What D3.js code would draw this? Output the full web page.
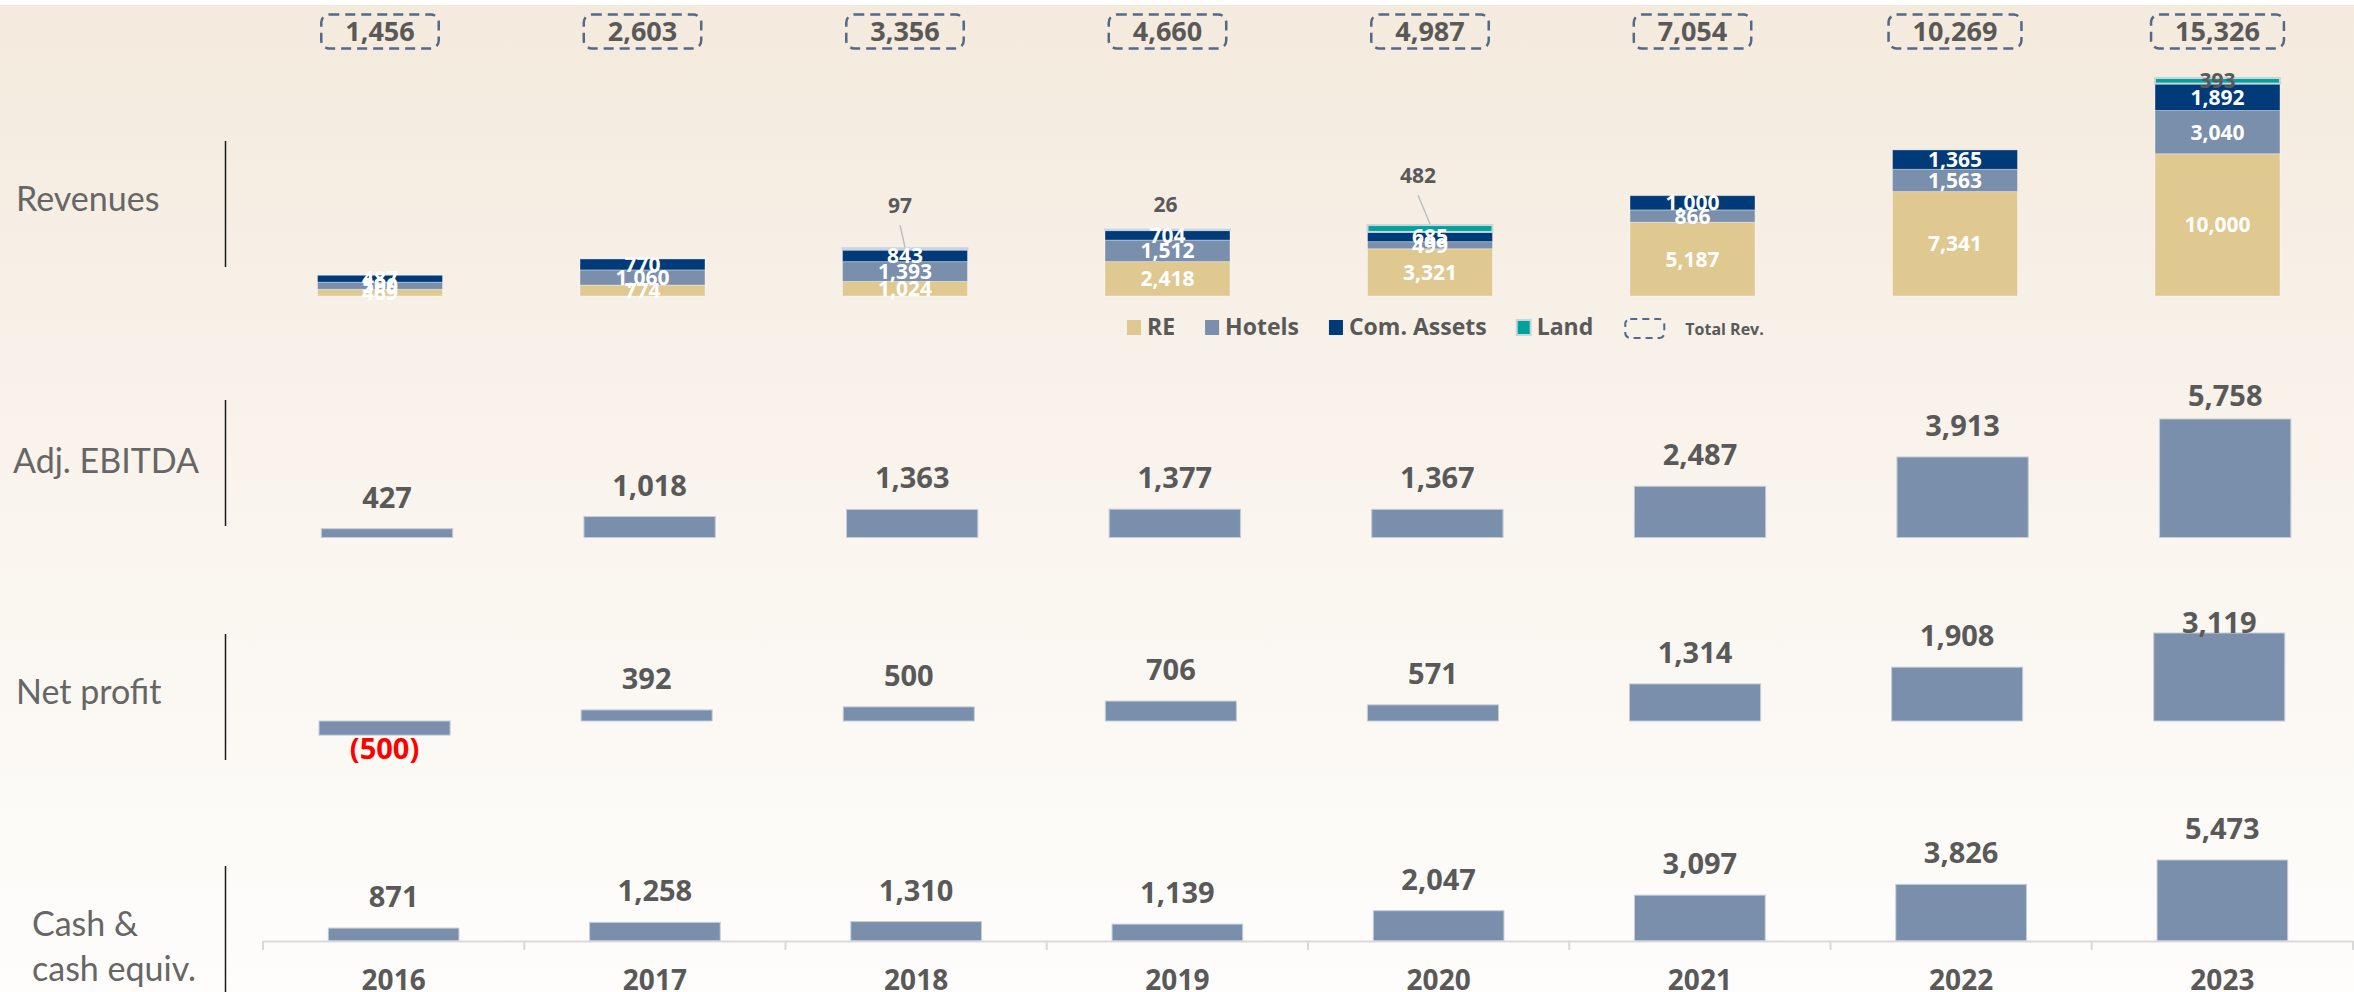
<!DOCTYPE html>
<html>
<head>
<meta charset="utf-8">
<script src="https://cdn.jsdelivr.net/npm/d3@7"></script>
<style>
  html, body { margin: 0; padding: 0; background: #fff; }
  svg { display: block; }
  .val { font-family: "Open Sans", sans-serif; font-weight: 700; fill: #595959; }
  .rowlab { font-family: Lato, "Open Sans", sans-serif; fill: #666; font-size: 34px; }
</style>
</head>
<body>
<div id="chart"></div>
<script>
// ---- data ----
var years = ["2016", "2017", "2018", "2019", "2020", "2021", "2022", "2023"];
var revRE = [469, 774, 1024, 2418, 3321, 5187, 7341, 10000];
var revHotels = [500, 1060, 1393, 1512, 499, 866, 1563, 3040];
var revCom = [487, 770, 843, 704, 685, 1000, 1365, 1892];
var revLand = [0, 0, 97, 26, 482, 0, 0, 393];
var revTotal = [1456, 2603, 3356, 4660, 4987, 7054, 10269, 15326];
var ebitda = [427, 1018, 1363, 1377, 1367, 2487, 3913, 5758];
var netProfit = [-500, 392, 500, 706, 571, 1314, 1908, 3119];
var cash = [871, 1258, 1310, 1139, 2047, 3097, 3826, 5473];
var seriesNames = ["RE", "Hotels", "Com. Assets", "Land"];

var width = 2354, height = 992;
var colors = {RE: "#e0c891", Hotels: "#7a8fab", "Com. Assets": "#003a78", Land: "#00a29a"};
var grey = "#595959";
var fmt = d3.format(",");

// where the small Land labels sit (relative to stack top / centre)
var landLabelPos = {
  "2018": {dx: -5, dy: -35, leader: true},
  "2019": {dx: -2, dy: -18, leader: false},
  "2020": {dx: -12, dy: -42, leader: true},
  "2023": {inside: true}
};

var svg = d3.select("#chart").append("svg")
    .attr("width", width)
    .attr("height", height);

var grad = svg.append("defs").append("linearGradient")
    .attr("id", "bg").attr("x1", 0).attr("y1", 0).attr("x2", 0).attr("y2", 1);
grad.append("stop").attr("offset", "0").attr("stop-color", "#f4eadd");
grad.append("stop").attr("offset", "0.45").attr("stop-color", "#f9f3ec");
grad.append("stop").attr("offset", "0.8").attr("stop-color", "#fcfaf6");
grad.append("stop").attr("offset", "1").attr("stop-color", "#fefdfc");

svg.append("rect")
    .attr("x", 0).attr("y", 5)
    .attr("width", width).attr("height", height - 5)
    .attr("fill", "url(#bg)");

function band(x0, step, pad) {
  return d3.scaleBand().domain(years)
    .range([x0, x0 + step * years.length])
    .paddingInner(pad).paddingOuter(pad / 2);
}

// ---- row labels + dividers ----
var rowLabels = [
  {lines: ["Revenues"], x: 16, y: 211, y1: 141, y2: 267},
  {lines: ["Adj. EBITDA"], x: 13, y: 473, y1: 400, y2: 526},
  {lines: ["Net profit"], x: 16, y: 704, y1: 634, y2: 760},
  {lines: ["Cash &", "cash equiv."], x: 32, y: 936, y1: 866, y2: 992}
];
rowLabels.forEach(function(r) {
  var t = svg.append("text").attr("class", "rowlab").attr("x", r.x).attr("y", r.y);
  r.lines.forEach(function(l, i) {
    t.append("tspan").attr("x", r.x).attr("dy", i ? 45 : 0).text(l);
  });
  svg.append("line")
      .attr("x1", 225.5).attr("x2", 225.5)
      .attr("y1", r.y1).attr("y2", r.y2)
      .attr("stroke", "#1a1a1a").attr("stroke-width", 1.5);
});

// ---- revenues: stacked bars ----
var revX = band(248.75, 262.5, 0.524);
var revY = d3.scaleLinear().domain([0, 15326]).range([296, 78]);

var revRows = years.map(function(y, i) {
  return {year: y, RE: revRE[i], Hotels: revHotels[i], "Com. Assets": revCom[i], Land: revLand[i], total: revTotal[i]};
});
var stacked = d3.stack().keys(seriesNames)(revRows);

var revG = svg.append("g");
stacked.forEach(function(layer) {
  var key = layer.key;
  revG.append("g").selectAll("rect")
    .data(layer.filter(function(d) { return d[1] - d[0] > 0; }))
    .enter().append("rect")
      .attr("x", function(d) { return revX(d.data.year); })
      .attr("width", revX.bandwidth())
      .attr("y", function(d) { return revY(d[1]); })
      .attr("height", function(d) { return revY(d[0]) - revY(d[1]); })
      .attr("fill", colors[key])
      .attr("stroke", key == "Land" ? "#c8d4e0" : "rgba(255,255,255,0.35)")
      .attr("stroke-width", key == "Land" ? 2 : 1);
});

// segment labels
stacked.forEach(function(layer) {
  var key = layer.key;
  layer.forEach(function(d) {
    var v = d[1] - d[0];
    if (v <= 0) return;
    var cx = revX(d.data.year) + revX.bandwidth() / 2;
    var top = revY(d[1]);
    if (key == "Land") {
      var p = landLabelPos[d.data.year];
      if (p.inside) {
        revG.append("text").attr("class", "val")
            .attr("x", cx).attr("y", (revY(d[0]) + top) / 2 + 7.5)
            .attr("text-anchor", "middle").attr("font-size", 21)
            .text(fmt(v));
      } else {
        if (p.leader) {
          revG.append("line")
              .attr("x1", cx + p.dx).attr("y1", top + p.dy + 12)
              .attr("x2", cx).attr("y2", top - 1)
              .attr("stroke", "#bfbfbf").attr("stroke-width", 1.5);
        }
        revG.append("text").attr("class", "val")
            .attr("x", cx + p.dx).attr("y", top + p.dy)
            .attr("text-anchor", "middle").attr("font-size", 21)
            .text(fmt(v));
      }
    } else {
      revG.append("text")
          .attr("x", cx).attr("y", (revY(d[0]) + top) / 2 + 7.5)
          .attr("text-anchor", "middle")
          .attr("font-family", "'Open Sans', sans-serif").attr("font-weight", 700)
          .attr("font-size", 21).attr("fill", "#fff")
          .text(fmt(v));
    }
  });
});

// total boxes
var totG = svg.append("g");
revRows.forEach(function(d) {
  var cx = revX(d.year) + revX.bandwidth() / 2;
  var t = totG.append("text").attr("class", "val")
      .attr("x", cx).attr("y", 41)
      .attr("text-anchor", "middle").attr("font-size", 27)
      .text(fmt(d.total));
  var w = t.node().getComputedTextLength() + 48;
  totG.insert("rect", "text")
      .attr("x", cx - w / 2).attr("y", 14.5)
      .attr("width", w).attr("height", 34)
      .attr("rx", 8).attr("ry", 8)
      .attr("fill", "none").attr("stroke", "#52698a")
      .attr("stroke-width", 2.5).attr("stroke-dasharray", "10,6");
});

// legend
var leg = svg.append("g");
var lx = 1127;
seriesNames.forEach(function(k) {
  leg.append("rect").attr("x", lx).attr("y", 320).attr("width", 14).attr("height", 15)
      .attr("fill", colors[k])
      .attr("stroke", k == "Land" ? "#c8d4e0" : "none").attr("stroke-width", 2);
  var t = leg.append("text").attr("class", "val")
      .attr("x", lx + 20).attr("y", 335).attr("font-size", 23).text(k);
  lx += 20 + t.node().getComputedTextLength() + 30;
});
leg.append("rect").attr("x", lx + 2).attr("y", 319).attr("width", 39).attr("height", 19)
    .attr("rx", 5).attr("fill", "none").attr("stroke", "#52698a")
    .attr("stroke-width", 2).attr("stroke-dasharray", "7,5");
leg.append("text").attr("class", "val")
    .attr("x", lx + 62).attr("y", 335).attr("font-size", 16).text("Total Rev.");

// ---- simple bar rows ----
function barRow(values, x, y, minBase) {
  var g = svg.append("g");
  g.selectAll("rect").data(values).enter().append("rect")
      .attr("x", function(d, i) { return x(years[i]); })
      .attr("width", x.bandwidth())
      .attr("y", function(d) { return Math.min(y(d), y(0)); })
      .attr("height", function(d) { return Math.abs(y(d) - y(0)); })
      .attr("fill", "#7a8fab")
      .attr("stroke", "#c3ccd8").attr("stroke-width", 1);
  g.selectAll("text").data(values).enter().append("text")
      .attr("class", "val")
      .attr("x", function(d, i) { return x(years[i]) + x.bandwidth() / 2; })
      .attr("y", function(d) {
        if (d < 0) return y(d) + 24;
        return Math.max(y(d) - 21, minBase);
      })
      .attr("text-anchor", "middle").attr("font-size", 29)
      .style("fill", function(d) { return d < 0 ? "#ff0000" : grey; })
      .text(function(d) { return d < 0 ? "(" + fmt(-d) + ")" : fmt(d); });
}

var ebX = band(255.7, 262.6, 0.5);
var ebY = d3.scaleLinear().domain([0, 5758]).range([537.5, 419]);
barRow(ebitda, ebX, ebY, 406);

var npX = band(253.5, 262.1, 0.5);
var npY = d3.scaleLinear().domain([0, 3119]).range([721, 633]);
barRow(netProfit, npX, npY, 633);

var cashX = band(263, 261.25, 0.5);
var cashY = d3.scaleLinear().domain([0, 5473]).range([941, 860]);
barRow(cash, cashX, cashY, 0);

// ---- x axis ----
var axisG = svg.append("g")
    .attr("transform", "translate(0,941)")
    .call(d3.axisBottom(cashX).tickSize(0).tickSizeOuter(0).tickPadding(29));
axisG.select(".domain").attr("stroke", "#d9d9d9").attr("stroke-width", 2);
axisG.selectAll("text")
    .attr("font-family", "'Open Sans', sans-serif").attr("font-weight", 700)
    .attr("font-size", 28).attr("fill", grey);
axisG.selectAll(".bound")
  .data(d3.range(years.length + 1))
  .enter().append("line")
    .attr("class", "bound")
    .attr("x1", function(i) { return 263 + cashX.step() * i; })
    .attr("x2", function(i) { return 263 + cashX.step() * i; })
    .attr("y1", 0).attr("y2", 9)
    .attr("stroke", "#d9d9d9").attr("stroke-width", 2);
</script>
</body>
</html>
